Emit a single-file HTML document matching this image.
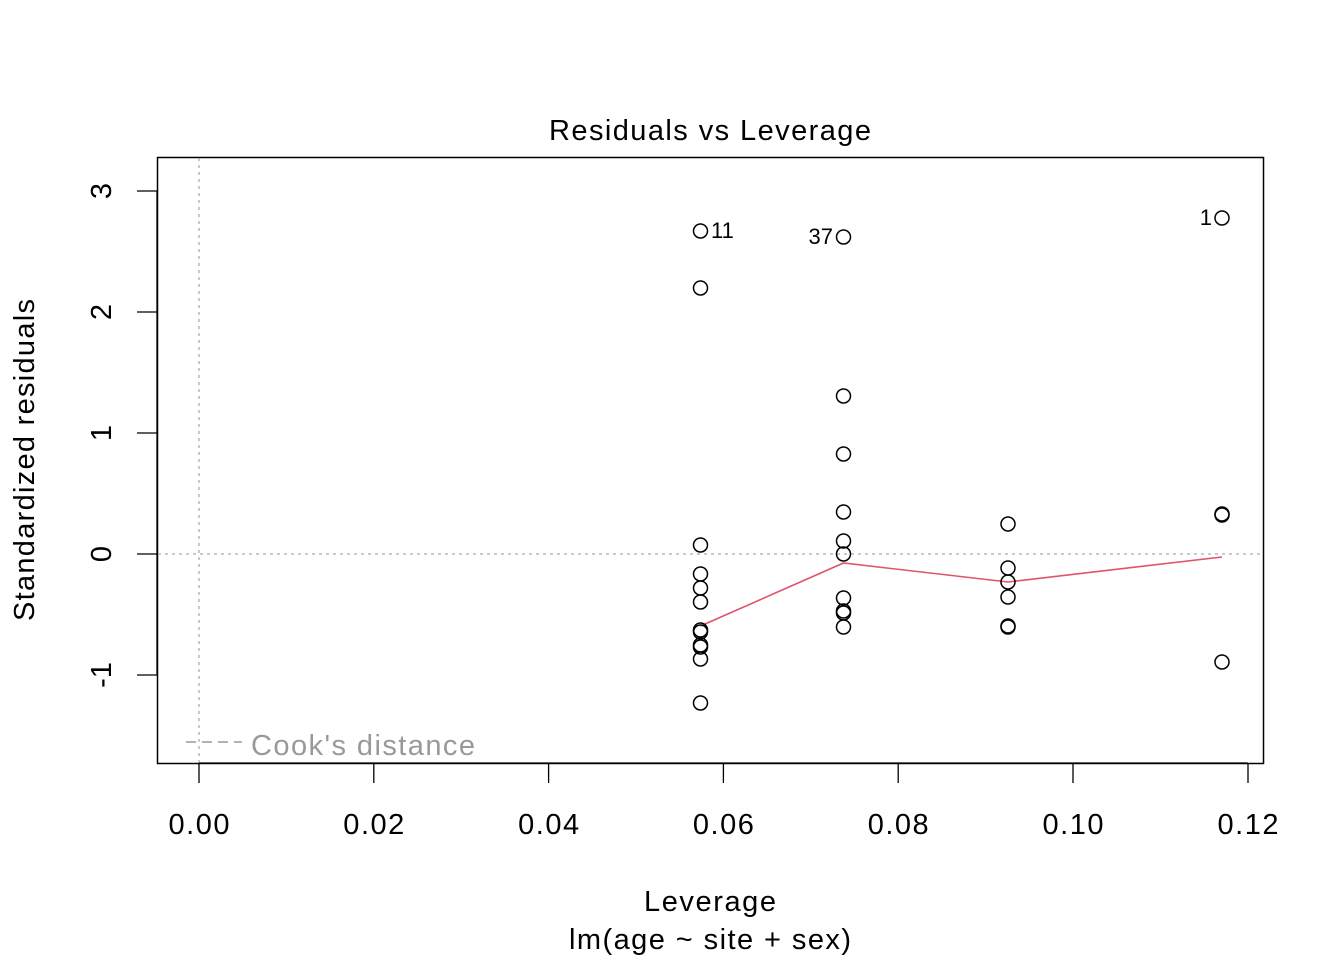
<!DOCTYPE html><html><head><style>body{margin:0;background:#fff}</style></head><body>
<svg width="1344" height="960" xmlns="http://www.w3.org/2000/svg" font-family="Liberation Sans, sans-serif">
<rect x="157.5" y="157.5" width="1106" height="606" fill="none" stroke="#000" stroke-width="1.5"/>
<line x1="199" y1="158" x2="199" y2="763" stroke="#aaa" stroke-width="1.3" stroke-dasharray="3,4"/>
<line x1="158" y1="554" x2="1263" y2="554" stroke="#aaa" stroke-width="1.3" stroke-dasharray="3,4"/>
<g stroke="#000" stroke-width="1.3">
<line x1="199" y1="763" x2="1248" y2="763"/>
<line x1="199" y1="763" x2="199" y2="783"/><line x1="373.8" y1="763" x2="373.8" y2="783"/><line x1="548.6" y1="763" x2="548.6" y2="783"/><line x1="723.4" y1="763" x2="723.4" y2="783"/><line x1="898.2" y1="763" x2="898.2" y2="783"/><line x1="1073" y1="763" x2="1073" y2="783"/><line x1="1248" y1="763" x2="1248" y2="783"/>
<line x1="157" y1="191" x2="157" y2="675"/>
<line x1="137" y1="191" x2="157" y2="191"/><line x1="137" y1="312" x2="157" y2="312"/><line x1="137" y1="433" x2="157" y2="433"/><line x1="137" y1="554" x2="157" y2="554"/><line x1="137" y1="675" x2="157" y2="675"/>
</g>
<g font-size="29" text-anchor="middle">
<text x="199" y="834" textLength="61">0.00</text><text x="373.8" y="834" textLength="61">0.02</text><text x="548.6" y="834" textLength="61">0.04</text><text x="723.4" y="834" textLength="61">0.06</text><text x="898.2" y="834" textLength="61">0.08</text><text x="1073" y="834" textLength="61">0.10</text><text x="1248" y="834" textLength="61">0.12</text>
<text transform="translate(111,191) rotate(-90)">3</text><text transform="translate(111,312) rotate(-90)">2</text><text transform="translate(111,433) rotate(-90)">1</text><text transform="translate(111,554) rotate(-90)">0</text><text transform="translate(111,675) rotate(-90)">-1</text>
<text x="710" y="140" textLength="322">Residuals vs Leverage</text>
<text x="710" y="911" textLength="132">Leverage</text>
<text x="710" y="949" textLength="282">lm(age ~ site + sex)</text>
<text transform="translate(34,460) rotate(-90)" textLength="322">Standardized residuals</text>
</g>
<line x1="186" y1="742" x2="242" y2="742" stroke="#999" stroke-width="1.5" stroke-dasharray="10,6"/>
<text x="251" y="755" font-size="29" fill="#999" textLength="224">Cook's distance</text>
<polyline points="700.5,626 843.5,563 1008,582 1222,557" fill="none" stroke="#DF536B" stroke-width="1.6"/>
<g fill="none" stroke="#000" stroke-width="1.5">
<circle cx="700.5" cy="231" r="7"/><circle cx="700.5" cy="288" r="7"/><circle cx="700.5" cy="545" r="7"/><circle cx="700.5" cy="574" r="7"/><circle cx="700.5" cy="588" r="7"/><circle cx="700.5" cy="602" r="7"/><circle cx="700.5" cy="630" r="7"/><circle cx="700.5" cy="632" r="7"/><circle cx="700.5" cy="645" r="7"/><circle cx="700.5" cy="647" r="7"/><circle cx="700.5" cy="659" r="7"/><circle cx="700.5" cy="703" r="7"/>
<circle cx="843.5" cy="237" r="7"/><circle cx="843.5" cy="396" r="7"/><circle cx="843.5" cy="454" r="7"/><circle cx="843.5" cy="512" r="7"/><circle cx="843.5" cy="541" r="7"/><circle cx="843.5" cy="554" r="7"/><circle cx="843.5" cy="598" r="7"/><circle cx="843.5" cy="611" r="7"/><circle cx="843.5" cy="613" r="7"/><circle cx="843.5" cy="627" r="7"/>
<circle cx="1008" cy="524" r="7"/><circle cx="1008" cy="568" r="7"/><circle cx="1008" cy="582" r="7"/><circle cx="1008" cy="597" r="7"/><circle cx="1008" cy="626" r="7"/><circle cx="1008" cy="627" r="7"/>
<circle cx="1222" cy="218" r="7"/><circle cx="1222" cy="514" r="7"/><circle cx="1222" cy="515" r="7"/><circle cx="1222" cy="662" r="7"/>
</g>
<g font-size="22">
<text x="711" y="238">11</text>
<text x="833" y="244" text-anchor="end">37</text>
<text x="1212" y="225" text-anchor="end">1</text>
</g>
</svg>
</body></html>
